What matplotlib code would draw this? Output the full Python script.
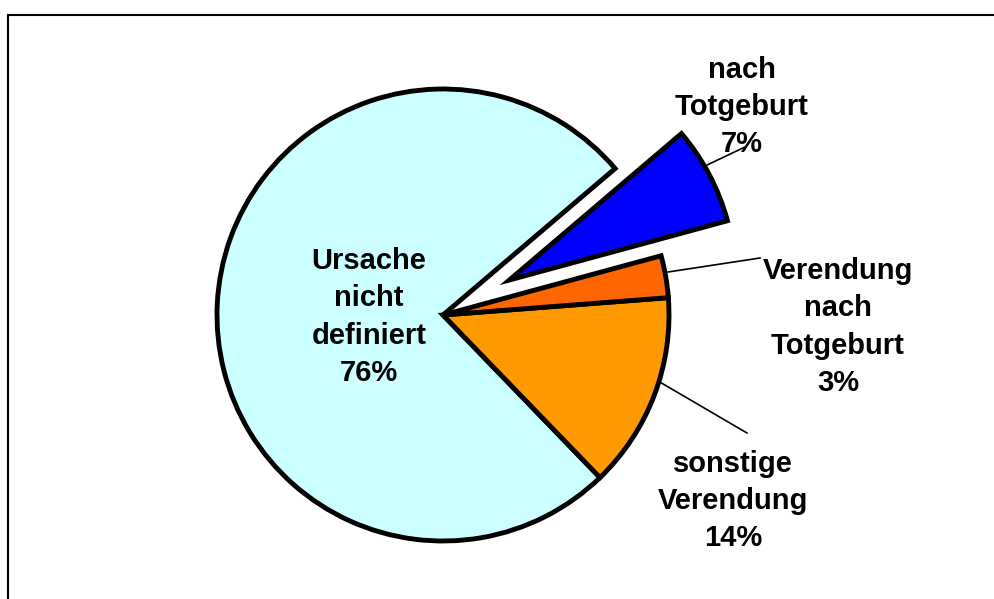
import matplotlib
matplotlib.use("Agg")
import matplotlib.pyplot as plt
from matplotlib.lines import Line2D

# data
labels = ["Ursache\nnicht\ndefiniert\n76%", "sonstige\nVerendung\n14%",
          "Verendung\nnach\nTotgeburt\n3%", "nach\nTotgeburt\n7%"]
values = [76, 14, 3, 7]
colors = ["#CCFFFF", "#FF9900", "#FF6600", "#0000FF"]

W, H = 995, 599
fig = plt.figure(figsize=(W / 100, H / 100), dpi=100)
ax = fig.add_axes([0, 0, 1, 1])

cx, cy, r = 443, 315, 226
# explode is in data units (pixels here)
explode = [0, 0, 0, 75]
# y axis is inverted, so draw clockwise to get the usual CCW look
wedges, _ = ax.pie(values, colors=colors, explode=explode, startangle=-40.4,
                   counterclock=False, center=(cx, cy), radius=r, frame=True,
                   wedgeprops=dict(edgecolor="black", linewidth=3.5,
                                   joinstyle="miter"))
ax.set_xlim(0, W)
ax.set_ylim(H, 0)
ax.set_aspect("equal")
ax.axis("off")

font = dict(family=["Liberation Sans", "DejaVu Sans"], fontweight="bold",
            fontsize=21, ha="center", va="center", linespacing=1.42)

# label positions (pixel coords) and leader lines
label_pos = [(369, 317), (733, 501), (838, 327), (742, 107)]
leaders = [None, ((658, 381), (747, 433)), ((668, 272), (760, 258)),
           ((705, 166), (745, 147))]
for lab, pos, ld in zip(labels, label_pos, leaders):
    ax.text(pos[0], pos[1], lab, **font)
    if ld is not None:
        ax.plot([ld[0][0], ld[1][0]], [ld[0][1], ld[1][1]], color="black", lw=1.2)

# frame (top and left border)
fig.add_artist(Line2D([8 / W, 1], [1 - 15 / H, 1 - 15 / H], color="black", lw=1.5))
fig.add_artist(Line2D([8 / W, 8 / W], [0, 1 - 15 / H], color="black", lw=1.5))

fig.savefig("out.png", dpi=100)
